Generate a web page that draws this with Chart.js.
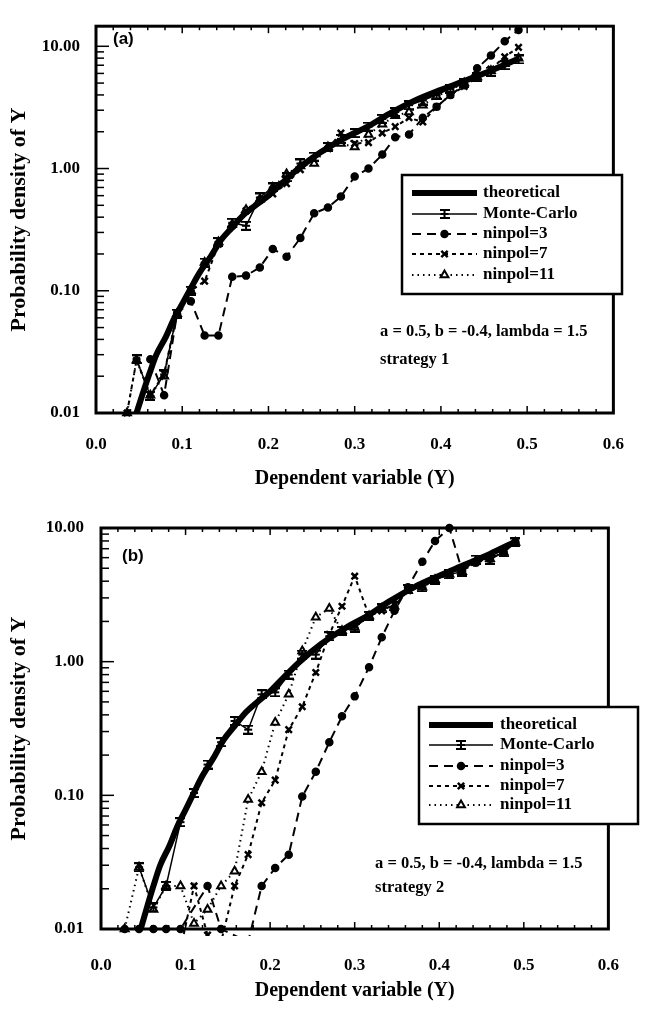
<!DOCTYPE html>
<html><head><meta charset="utf-8">
<script src="https://cdn.jsdelivr.net/npm/chart.js@4.4.1/dist/chart.umd.min.js"></script>
<style>
html,body{margin:0;padding:0;background:#fff;width:645px;height:1009px;overflow:hidden}
canvas{position:absolute;left:0}
</style></head><body>
<canvas id="ca" width="645" height="500" style="top:0"></canvas>
<canvas id="cb" width="645" height="509" style="top:500px"></canvas>
<script>
// ---------------- data ----------------
const theoX = [0.047,0.055,0.062,0.07,0.081,0.09,0.1,0.11,0.12,0.133,0.145,0.158,0.17,0.185,0.2,0.215,0.235,0.26,0.29,0.315,0.34,0.37,0.4,0.43,0.46,0.49];
const theoY = [0.01,0.015,0.021,0.03,0.042,0.058,0.078,0.105,0.14,0.19,0.26,0.33,0.41,0.5,0.6,0.75,1.0,1.35,1.8,2.2,2.8,3.6,4.4,5.3,6.4,7.9];

// panel (a), strategy 1
const mcAX = [0.047,0.063,0.079,0.094,0.110,0.126,0.142,0.158,0.174,0.190,0.205,0.221,0.237,0.253,0.269,0.284,0.300,0.316,0.332,0.347,0.363,0.379,0.395,0.411,0.427,0.442,0.458,0.474,0.490];
const mcAY = [0.0275,0.0138,0.0207,0.065,0.10,0.17,0.25,0.36,0.34,0.58,0.7,0.85,1.1,1.25,1.5,1.75,1.95,2.2,2.55,2.9,3.3,3.6,4.0,4.5,5.0,5.6,6.2,7.0,7.8];
const n3AX = [0.063,0.079,0.094,0.110,0.126,0.142,0.158,0.174,0.190,0.205,0.221,0.237,0.253,0.269,0.284,0.300,0.316,0.332,0.347,0.363,0.379,0.395,0.411,0.427,0.442,0.458,0.474,0.490];
const n3AY = [0.0275,0.014,0.065,0.082,0.043,0.043,0.13,0.133,0.155,0.22,0.19,0.27,0.43,0.48,0.59,0.86,1.0,1.3,1.8,1.9,2.6,3.2,4.0,4.8,6.6,8.4,11,13.6];
const n7AX = [0.036,0.047,0.063,0.079,0.094,0.110,0.126,0.142,0.158,0.174,0.190,0.205,0.221,0.237,0.253,0.269,0.284,0.300,0.316,0.332,0.347,0.363,0.379,0.395,0.411,0.427,0.442,0.458,0.474,0.490];
const n7AY = [0.01,0.027,0.014,0.021,0.065,0.1,0.12,0.24,0.34,0.45,0.55,0.62,0.75,0.98,1.2,1.45,1.95,1.6,1.63,1.95,2.2,2.6,2.4,3.2,4.0,4.7,5.6,6.5,8.2,9.8];
const n11AX = [0.036,0.047,0.063,0.079,0.094,0.110,0.126,0.142,0.158,0.174,0.190,0.205,0.221,0.237,0.253,0.269,0.284,0.300,0.316,0.332,0.347,0.363,0.379,0.395,0.411,0.427,0.442,0.458,0.474,0.490];
const n11AY = [0.01,0.027,0.014,0.02,0.065,0.1,0.17,0.25,0.35,0.46,0.56,0.7,0.9,1.05,1.1,1.5,1.6,1.5,1.9,2.3,2.7,2.9,3.3,3.9,4.4,5.0,5.6,6.3,7.2,8.0];

// panel (b), strategy 2
const mcBX = [0.045,0.062,0.077,0.094,0.110,0.126,0.142,0.158,0.174,0.190,0.206,0.222,0.238,0.254,0.270,0.285,0.300,0.317,0.332,0.347,0.363,0.380,0.395,0.412,0.427,0.443,0.460,0.476,0.490];
const mcBY = [0.029,0.0145,0.021,0.063,0.104,0.17,0.25,0.36,0.31,0.57,0.59,0.8,1.13,1.13,1.55,1.7,1.8,2.2,2.5,2.6,3.5,3.6,4.1,4.5,4.7,5.8,5.8,6.6,7.8];
const n3BX = [0.028,0.045,0.062,0.077,0.094,0.126,0.142,0.174,0.190,0.206,0.222,0.238,0.254,0.270,0.285,0.300,0.317,0.332,0.347,0.363,0.380,0.395,0.412,0.427,0.443,0.460,0.476,0.490];
const n3BY = [0.01,0.01,0.01,0.01,0.01,0.021,0.01,0.008,0.021,0.0286,0.036,0.098,0.15,0.25,0.39,0.55,0.91,1.52,2.4,3.6,5.6,8,10,4.8,5.5,5.9,6.6,7.8];
const n7BX = [0.094,0.110,0.126,0.142,0.158,0.174,0.190,0.206,0.222,0.238,0.254,0.270,0.285,0.300,0.317,0.332,0.347,0.363,0.380,0.395,0.412,0.427,0.443,0.460,0.476,0.490];
const n7BY = [0.007,0.021,0.009,0.008,0.021,0.036,0.088,0.13,0.31,0.46,0.83,1.6,2.6,4.36,2.2,2.4,2.7,3.4,3.7,4.1,4.5,4.8,5.5,5.9,6.6,7.8];
const n11BX = [0.028,0.045,0.062,0.077,0.094,0.110,0.126,0.142,0.158,0.174,0.190,0.206,0.222,0.238,0.254,0.270,0.285,0.300,0.317,0.332,0.347,0.363,0.380,0.395,0.412,0.427,0.443,0.460,0.476,0.490];
const n11BY = [0.01,0.029,0.014,0.021,0.021,0.011,0.014,0.021,0.027,0.093,0.15,0.35,0.57,1.2,2.15,2.5,1.7,1.8,2.2,2.5,2.6,3.4,3.6,4.1,4.5,4.7,5.6,5.9,6.6,7.8];

// ticks and texts
const xTickValues = [0,0.1,0.2,0.3,0.4,0.5,0.6];
const xTickLabels = ['0.0','0.1','0.2','0.3','0.4','0.5','0.6'];
const yTickValues = [0.01,0.1,1,10];
const yTickLabels = ['0.01','0.10','1.00','10.00'];
const legendLabels = ['theoretical','Monte-Carlo','ninpol=3','ninpol=7','ninpol=11'];
const paramText = 'a = 0.5, b = -0.4, lambda = 1.5';
const xTitle = 'Dependent variable (Y)';
const yTitle = 'Probability density of Y';

// ---------------- drawing ----------------
const SERIF = '"Liberation Serif","Times New Roman",serif';
const mcImg = document.createElement('canvas');
mcImg.width = 10; mcImg.height = 10;
(function(){const c=mcImg.getContext('2d');c.fillStyle='#000';
  c.fillRect(0,0,10,2);c.fillRect(1,4,8,2);c.fillRect(0,8,10,2);c.fillRect(4,0,2,10);})();

function pts(xs, ys){ return xs.map((x,i)=>({x:x, y:ys[i]})); }

function buildDatasets(theo, mc, n3, n7, n11){
  const clip = {left:8, top:8, right:8, bottom:7};
  return [
    {label:legendLabels[0], data:theo, borderColor:'#000', borderWidth:6, pointRadius:0,
     cubicInterpolationMode:'monotone', clip:clip},
    {label:legendLabels[1], data:mc, borderColor:'#000', borderWidth:1.5, pointStyle:mcImg,
     pointRadius:5, clip:clip},
    {label:legendLabels[2], data:n3, borderColor:'#000', borderWidth:2, borderDash:[9,6],
     pointStyle:'circle', pointRadius:3.5, pointBorderWidth:1.5, pointBackgroundColor:'#000', pointBorderColor:'#000', clip:clip},
    {label:legendLabels[3], data:n7, borderColor:'#000', borderWidth:2, borderDash:[4,4],
     pointStyle:'crossRot', pointRadius:4.5, pointBorderWidth:2.5, pointBorderColor:'#000', clip:clip},
    {label:legendLabels[4], data:n11, borderColor:'#000', borderWidth:2, borderDash:[1.5,4],
     pointStyle:'triangle', pointRadius:4.5, pointBorderWidth:2, pointBackgroundColor:'#fff', pointBorderColor:'#000', clip:clip}
  ];
}

const decor = {
  id:'decor',
  afterDatasetsDraw(chart, args, o){
    const ctx = chart.ctx, a = chart.chartArea, xs = chart.scales.x, ys = chart.scales.y;
    ctx.save();
    ctx.strokeStyle = '#000'; ctx.setLineDash([]);
    // y ticks (inward)
    ctx.lineWidth = 1.5;
    ys.ticks.forEach(t=>{
      const y = ys.getPixelForValue(t.value);
      const major = yTickValues.some(v=>Math.abs(v-t.value)/v < 1e-6);
      ctx.beginPath(); ctx.moveTo(a.left, y); ctx.lineTo(a.left + (major?13:8), y); ctx.stroke();
    });
    // x ticks (inward, bottom & top)
    for (let i=0;i<=30;i++){
      const v = i*0.02; const x = xs.getPixelForValue(v);
      const L = (i%5===0)?7:4;
      ctx.beginPath(); ctx.moveTo(x, a.bottom); ctx.lineTo(x, a.bottom-L); ctx.stroke();
      ctx.beginPath(); ctx.moveTo(x, a.top); ctx.lineTo(x, a.top+L); ctx.stroke();
    }
    // frame
    ctx.lineWidth = 3;
    ctx.strokeRect(a.left, a.top, a.right-a.left, a.bottom-a.top);
    // legend
    const b = o.box;
    ctx.fillStyle = '#fff';
    ctx.fillRect(b[0], b[1], b[2]-b[0], b[3]-b[1]);
    ctx.lineWidth = 2.5;
    ctx.strokeRect(b[0], b[1], b[2]-b[0], b[3]-b[1]);
    ctx.font = 'bold 17px ' + SERIF;
    ctx.textBaseline = 'middle'; ctx.textAlign = 'left';
    chart.data.datasets.forEach((ds,i)=>{
      const y = o.rows[i];
      ctx.strokeStyle = '#000';
      ctx.lineWidth = ds.borderWidth;
      ctx.setLineDash(ds.borderDash || []);
      ctx.beginPath(); ctx.moveTo(o.sample[0], y); ctx.lineTo(o.sample[1], y); ctx.stroke();
      ctx.setLineDash([]);
      if (ds.pointRadius > 0){
        ctx.fillStyle = ds.pointBackgroundColor || '#000';
        ctx.lineWidth = ds.pointBorderWidth || 1;
        Chart.helpers.drawPoint(ctx, {pointStyle:ds.pointStyle, radius:ds.pointRadius, rotation:0, borderWidth:ds.pointBorderWidth||1},
          (o.sample[0]+o.sample[1])/2, y);
      }
      ctx.fillStyle = '#000';
      ctx.fillText(legendLabels[i], o.textX, y);
    });
    // notes
    ctx.font = 'bold 16.5px ' + SERIF;
    o.notes.forEach(n=>{ ctx.fillText(n.t, n.x, n.y); });
    // panel label
    ctx.font = 'bold 17px "Liberation Sans",Arial,sans-serif';
    ctx.fillText(o.panel.t, o.panel.x, o.panel.y);
    ctx.restore();
  }
};

function yTicksFor(max){
  const out = [];
  [0.01,0.1,1,10].forEach(d=>{ for(let m=1;m<=9;m++){ const v=+(d*m).toPrecision(6); if (v<=max*1.0001) out.push(v);} });
  return out;
}

function makeChart(id, datasets, cfg){
  const allY = yTicksFor(cfg.ymax);
  return new Chart(document.getElementById(id), {
    type:'line',
    data:{datasets:datasets},
    options:{
      responsive:false, animation:false, events:[],
      layout:{padding:{top:cfg.padTop, right:cfg.padRight, left:0, bottom:0}},
      plugins:{legend:{display:false}, tooltip:{enabled:false}, decor:cfg.decor},
      elements:{line:{tension:0}},
      scales:{
        x:{type:'linear', min:0, max:0.6, position:'bottom',
           grid:{display:false, drawTicks:false}, border:{display:false},
           afterBuildTicks:(s)=>{ s.ticks = xTickValues.map(v=>({value:v})); },
           afterFit:(s)=>{ s.height = cfg.xh; },
           ticks:{padding:cfg.xpad, color:'#000', maxRotation:0, autoSkip:false,
             font:{family:SERIF, weight:'bold', size:17},
             callback:(v,i)=>xTickLabels[i]},
           title:{display:true, text:xTitle, color:'#000', padding:{top:0,bottom:cfg.xtpad},
             font:{family:SERIF, weight:'bold', size:20}}},
        y:{type:'logarithmic', min:0.01, max:cfg.ymax, position:'left',
           grid:{display:false, drawTicks:false}, border:{display:false},
           afterBuildTicks:(s)=>{ s.ticks = allY.map(v=>({value:v})); },
           afterFit:(s)=>{ s.width = cfg.yw; },
           ticks:{padding:cfg.ypad, color:'#000', autoSkip:false,
             font:{family:SERIF, weight:'bold', size:17},
             callback:(v)=>{ const i = yTickValues.findIndex(t=>Math.abs(t-v)/t<1e-6); return i>=0 ? yTickLabels[i] : ''; }},
           title:{display:true, text:yTitle, color:'#000', padding:{top:6,bottom:0},
             font:{family:SERIF, weight:'bold', size:22}}}
      }
    },
    plugins:[decor]
  });
}

makeChart('ca',
  buildDatasets(pts(theoX,theoY), pts(mcAX,mcAY), pts(n3AX,n3AY), pts(n7AX,n7AY), pts(n11AX,n11AY)),
  {ymax:14.6, padTop:11, padRight:15, xh:87, yw:96, xpad:21, ypad:16, xtpad:9,
   decor:{box:[402,175,622,294], rows:[193,214,234,254,275], sample:[412,477], textX:483,
     notes:[{t:paramText,x:380,y:332},{t:'strategy 1',x:380,y:360}],
     panel:{t:'(a)',x:113,y:39}}});

makeChart('cb',
  buildDatasets(pts(theoX,theoY), pts(mcBX,mcBY), pts(n3BX,n3BY), pts(n7BX,n7BY), pts(n11BX,n11BY)),
  {ymax:10, padTop:28, padRight:14, xh:80, yw:101, xpad:26, ypad:17, xtpad:6,
   decor:{box:[419,207,638,324], rows:[225,245,266,286,305], sample:[429,493], textX:500,
     notes:[{t:paramText,x:375,y:364},{t:'strategy 2',x:375,y:388}],
     panel:{t:'(b)',x:122,y:56}}});
</script>
</body></html>
